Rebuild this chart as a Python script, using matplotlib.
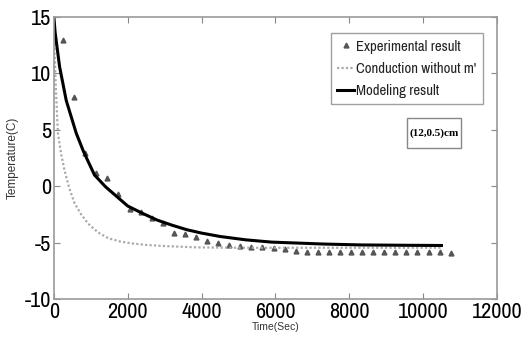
import numpy as np
import matplotlib.pyplot as plt
from matplotlib.patches import Rectangle

# experimental readings, one every 300 s
exp_time = np.arange(250, 10751, 300)
exp_temp = [12.96, 7.88, 2.97, 1.14, 0.70, -0.69, -2.05, -2.26, -2.84, -3.29,
            -4.12, -4.24, -4.48, -4.86, -5.06, -5.21, -5.30, -5.36, -5.42, -5.51,
            -5.60, -5.72, -5.81, -5.81, -5.86, -5.86, -5.86, -5.86, -5.86, -5.86,
            -5.86, -5.86, -5.86, -5.86, -5.86, -5.95]

# model curve
model_time = [0, 35, 155, 335, 606, 800, 1100, 1400, 1700, 2000, 2400, 2800, 3200,
              3600, 4000, 4500, 5200, 5900, 7300, 8300, 9500, 10500]
model_temp = [15, 13.6, 10.6, 7.6, 4.7, 3.1, 1.0, -0.05, -0.9, -1.75, -2.4, -3.0, -3.45,
              -3.85, -4.15, -4.45, -4.75, -4.95, -5.12, -5.2, -5.23, -5.25]

# pure conduction curve
cond_time = [0, 20, 50, 110, 200, 290, 420, 560, 740, 925, 1200, 1470, 1800, 2100,
             2500, 3000, 3900, 5000, 7000, 10500]
cond_temp = [15, 12.0, 9.0, 4.7, 2.8, 1.4, -0.2, -1.5, -2.5, -3.3, -4.1, -4.6, -4.9,
             -5.06, -5.2, -5.3, -5.42, -5.45, -5.45, -5.45]

plt.rcParams['font.family'] = ['Archivo Narrow', 'DejaVu Sans']
plt.rcParams['axes.unicode_minus'] = False

fig = plt.figure(figsize=(5.28, 3.45), dpi=100)
ax = fig.add_axes([0.102, 0.133, 0.839, 0.818])

ax.plot(exp_time, exp_temp, '^', color='#555555', markersize=3.5, linestyle='none',
        label='Experimental result')
ax.plot(cond_time, cond_temp, color='#aaaaaa', linewidth=1.6, linestyle=(0, (1, 1)),
        label='Conduction without m\'')
ax.plot(model_time, model_temp, '-', color='black', linewidth=2.2,
        label='Modeling result')

ax.set_xlim(0, 12000)
ax.set_ylim(-10, 15)
ax.set_xticks(np.arange(0, 12001, 2000))
ax.set_yticks(np.arange(-10, 16, 5))
ax.tick_params(direction='in', top=True, right=True, labelsize=16, length=4,
               color='#888888', pad=2)
for s in ax.spines.values():
    s.set_color('#999999')
    s.set_linewidth(1.2)

ax.set_xlabel('Time(Sec)', fontsize=7.5, labelpad=0, color='#333333',
              family='Liberation Sans')
ax.set_ylabel('Temperature(C)', fontsize=8.5, labelpad=4, color='#333333',
              family='Liberation Sans')

leg = ax.legend(loc='upper right', bbox_to_anchor=(0.968, 0.943), fontsize=10.6,
                frameon=True, fancybox=False, handlelength=1.15, handletextpad=0.1,
                borderpad=0.45, labelspacing=0.55, borderaxespad=0)
leg.get_frame().set_edgecolor('#888888')
leg.get_frame().set_linewidth(1.0)
for t in leg.get_texts():
    t.set_color('#222222')

# location tag in its own frame
ax.add_patch(Rectangle((0.797, 0.535), 0.122, 0.107, transform=ax.transAxes,
                       facecolor='white', edgecolor='#888888', linewidth=1.0))
ax.text(0.858, 0.589, '(12,0.5)cm', transform=ax.transAxes, ha='center', va='center',
        fontsize=8, fontweight='bold', family='Liberation Serif')

fig.savefig('out.png', dpi=100)
